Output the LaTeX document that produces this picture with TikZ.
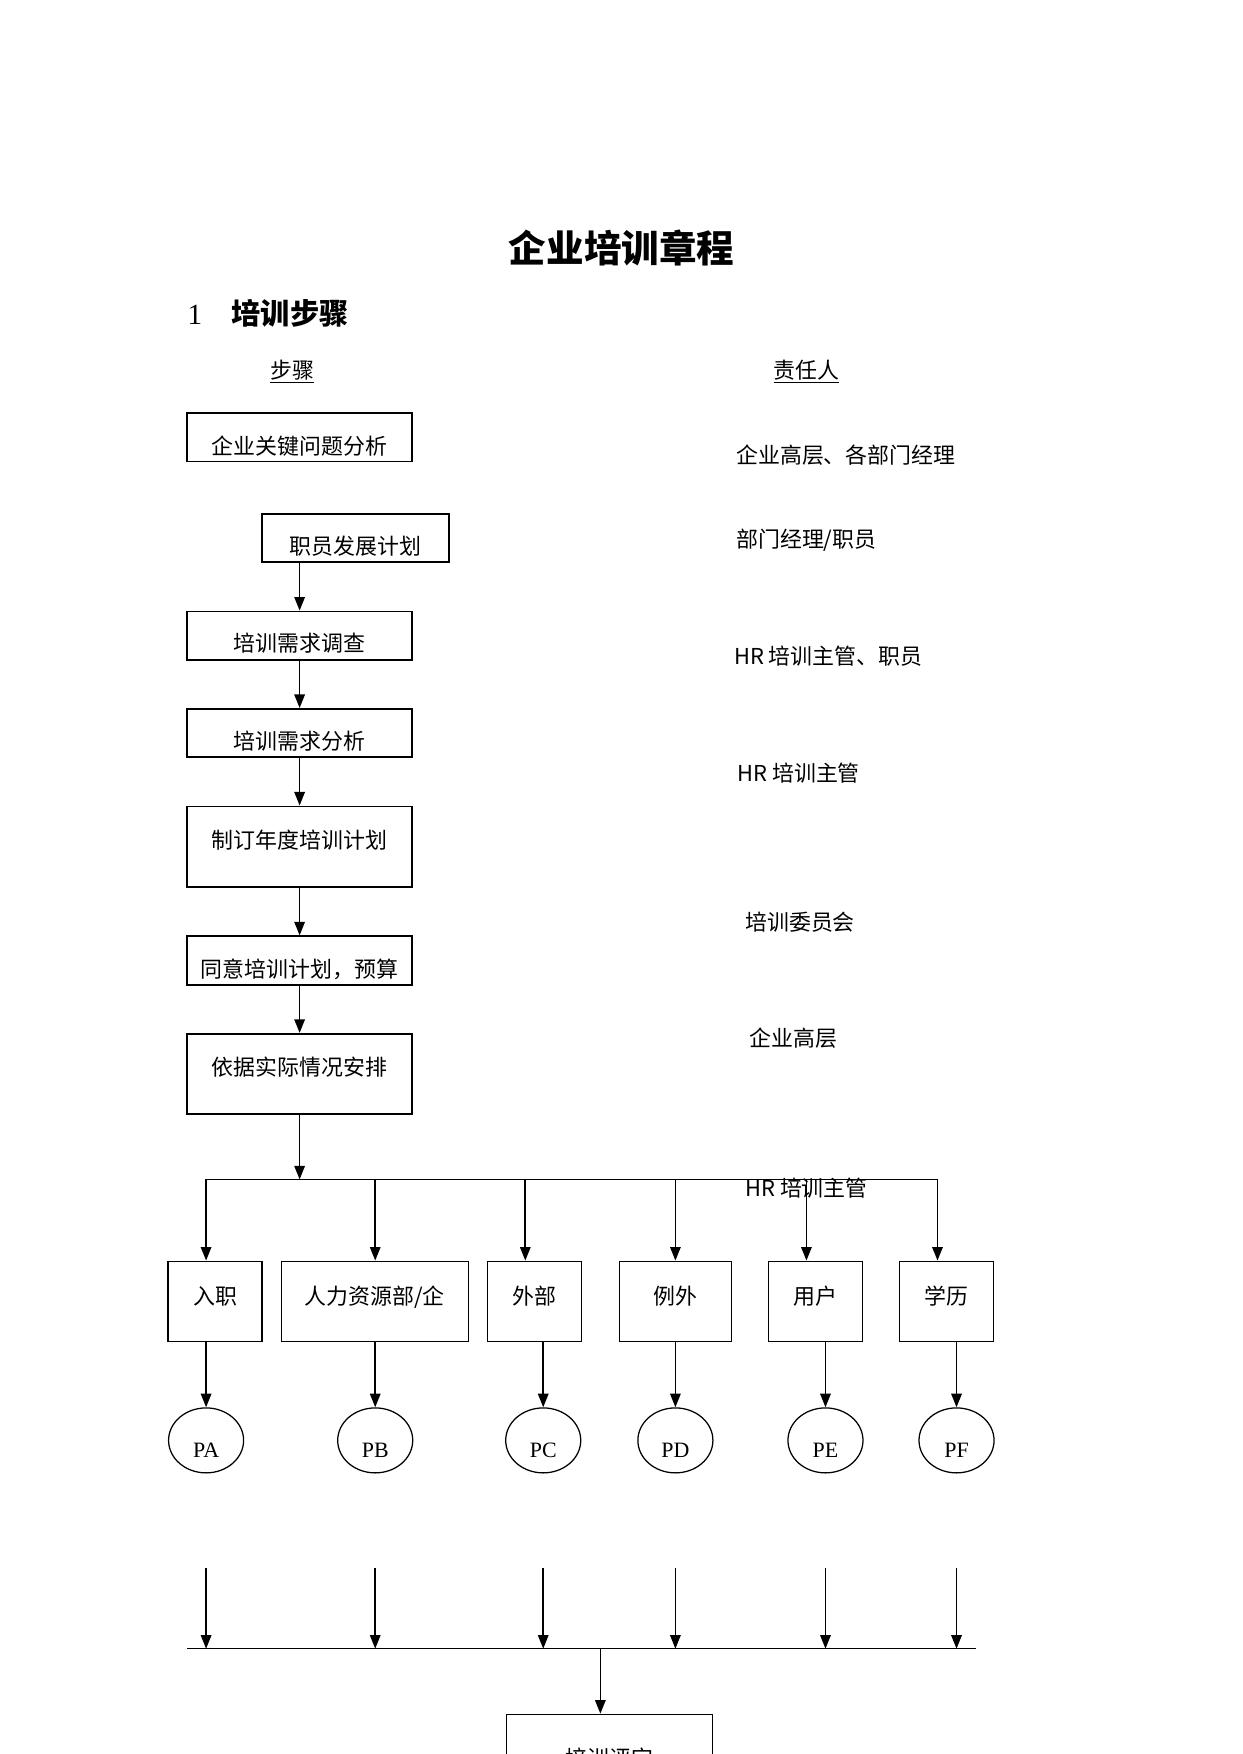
\documentclass[tikz,border=0pt]{standalone}
\usepackage{fontspec}
\setmainfont{Liberation Serif}
\newfontfamily\cjk{Noto Sans CJK SC}
\usetikzlibrary{arrows.meta,shapes.geometric}
\newcommand\px{0.5365pt}
\newcommand\wu{\fontsize{10.5}{12}\selectfont}
\begin{document}
\begin{tikzpicture}[x=\px,y=-\px,
	stepbox/.style={draw,line width=0.9pt,font=\cjk\wu,inner sep=0pt,minimum width=201*\px},
	lowtext/.style={text height=19.3pt,text depth=3.8pt},
	hightext/.style={text height=20.1pt,text depth=18.5pt},
	kindbox/.style={draw,line width=0.6pt,font=\cjk\wu,inner sep=0pt,text height=20.6pt,text depth=18pt},
	pnode/.style={draw,ellipse,line width=0.6pt,minimum width=67*\px,minimum height=58*\px,inner sep=0pt},
	who/.style={anchor=west,font=\cjk\wu,inner sep=0pt},
	arr/.style={line width=0.8pt,-{Triangle[length=6.5pt,width=5pt]}}]
	\path[use as bounding box,clip] (0,0) rectangle (1109,1566);

	% headings
	\node[font=\cjk\bfseries\fontsize{18}{22}\selectfont] (title) at (555,221) {企业培训章程};
	\node[anchor=west,font=\fontsize{14}{17}\selectfont] (sec) at (161,280) {1\hspace{14pt}{\cjk\bfseries 培训步骤}};
	\node[font=\cjk\wu] (hstep) at (261,332) {\underline{步骤}};
	\node[font=\cjk\wu] (hwho) at (720,332) {\underline{责任人}};

	% steps
	\node[stepbox,text height=19.6pt,text depth=3.5pt] (b1) at (267.5,390.5) {企业关键问题分析};
	\node[stepbox,lowtext,minimum width=167*\px] (b2) at (317.5,480.5) {职员发展计划};
	\node[stepbox,lowtext] (b3) at (267.5,567.5) {培训需求调查};
	\node[stepbox,lowtext] (b4) at (267.5,654.5) {培训需求分析};
	\node[stepbox,hightext] (b5) at (267.5,756) {制订年度培训计划};
	\node[stepbox,text height=19.6pt,text depth=3.5pt] (b6) at (267.5,857.5) {同意培训计划，预算};
	\node[stepbox,hightext] (b7) at (267.5,959) {依据实际情况安排};

	% responsible
	\node[who] (w1) at (657,406) {企业高层、各部门经理};
	\node[who] (w2) at (657,482) {部门经理/职员};
	\node[who] (w3) at (655,586) {HR 培训主管、职员};
	\node[who] (w4) at (658,690) {HR 培训主管};
	\node[who] (w5) at (665,823) {培训委员会};
	\node[who] (w6) at (669,927) {企业高层};
	\node[who] (w7) at (665,1061) {HR 培训主管};

	\draw[arr] (b3.north |- b2.south) -- (b3.north);
	\draw[arr] (b3) -- (b4);
	\draw[arr] (b4) -- (b5);
	\draw[arr] (b5) -- (b6);
	\draw[arr] (b6) -- (b7);

	% kinds of training
	\node[kindbox,minimum width=84*\px] (rz) at (192,1162) {入职};
	\node[kindbox,minimum width=167*\px] (rl) at (334.5,1162) {人力资源部/企};
	\node[kindbox,minimum width=84*\px] (wb) at (477,1162) {外部};
	\node[kindbox,minimum width=100*\px] (lw) at (603,1162) {例外};
	\node[kindbox,minimum width=84*\px] (yh) at (728,1162) {用户};
	\node[kindbox,minimum width=84*\px] (xl) at (845,1162) {学历};

	\coordinate (bus) at (267.5,1053);
	\coordinate (busL) at (184,1053);
	\coordinate (busR) at (837,1053);
	\draw[arr] (b7) -- (bus);
	\draw[line width=0.8pt] (busL) -- (busR);
	\foreach \x [count=\i] in {184,335,469,603,720,837}
		\coordinate (drop\i) at (\x,1053);
	\foreach \n [count=\i] in {rz,rl,wb,lw,yh,xl}
		\draw[arr] (drop\i) -- (drop\i |- \n.north);

	% programmes
	\foreach \p/\x/\t in {pa/184/PA,pb/335/PB,pc/485/PC,pd/603/PD,pe/737/PE,pf/854/PF}
		\node[pnode,label={[font=\wu,yshift=-9*\px]center:\t}] (\p) at (\x,1286) {};
	\foreach \n/\p in {rz/pa,rl/pb,wb/pc,lw/pd,yh/pe,xl/pf}
		\draw[arr] (\p.north |- \n.south) -- (\p.north);

	% evaluation
	\coordinate (joinL) at (167,1472);
	\coordinate (joinR) at (871,1472);
	\coordinate (join) at (536,1472);
	\foreach \p [count=\i] in {pa,pb,pc,pd,pe,pf}
		\coordinate (in\i) at (\p |- 0,1400);
	\foreach \i in {1,...,6}
		\draw[arr] (in\i) -- (in\i |- joinL);
	\draw[line width=0.6pt] (joinL) -- (joinR);
	\node[kindbox,anchor=north,minimum width=184*\px,text height=24.8pt,text depth=14pt] (eval) at (544,1530) {培训评定};
	\draw[arr] (join) -- (join |- eval.north);
\end{tikzpicture}
\end{document}
